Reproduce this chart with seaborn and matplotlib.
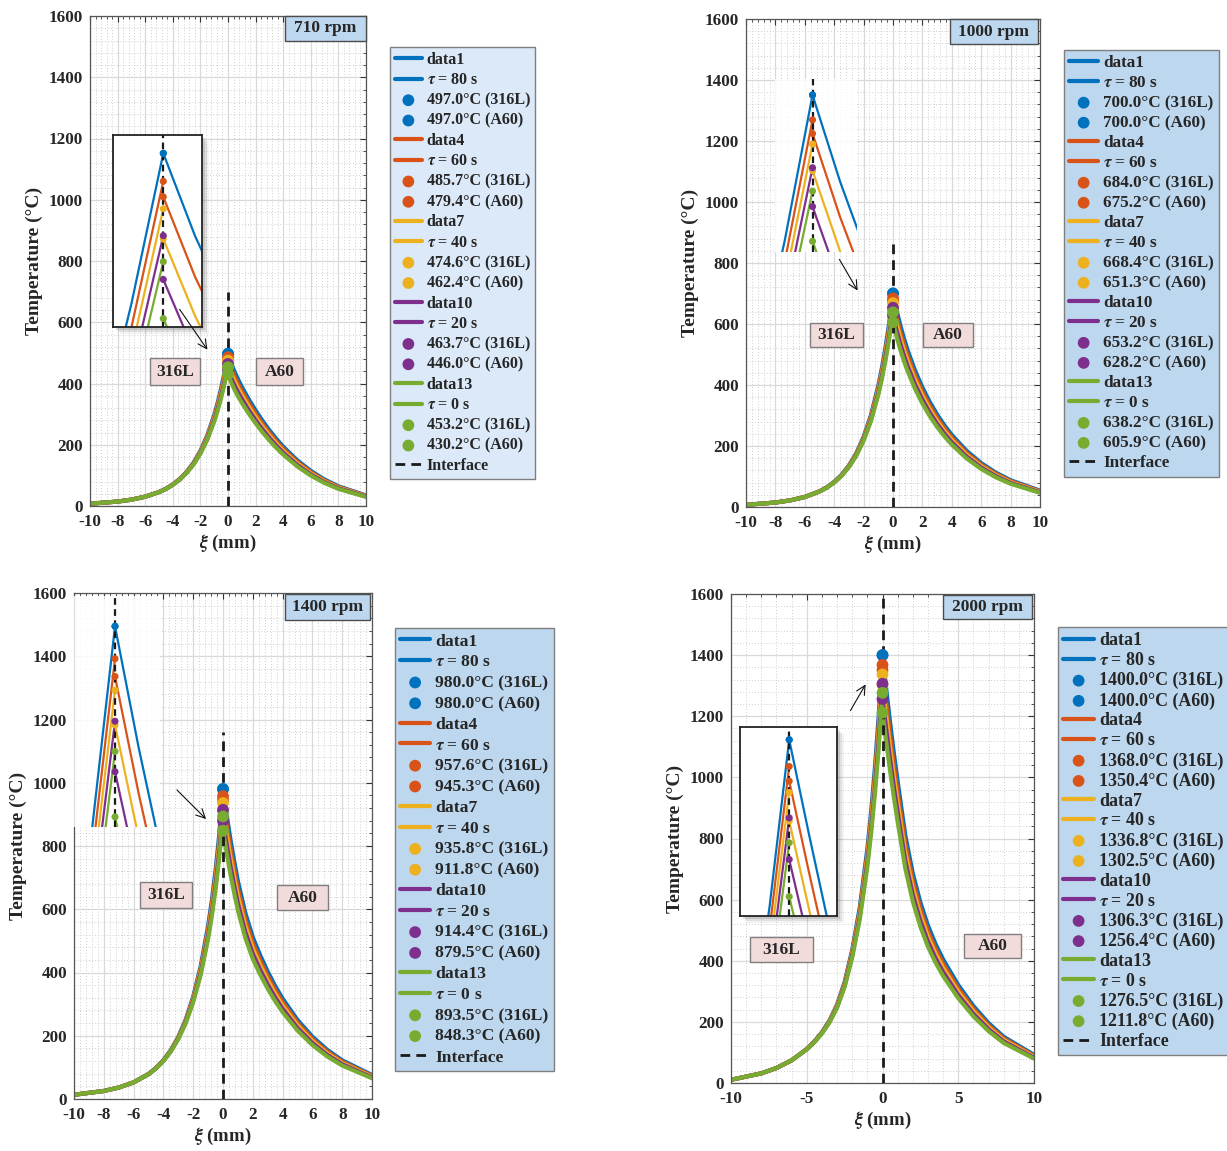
import matplotlib
matplotlib.use("Agg")
import matplotlib.pyplot as plt
import seaborn as sns
from matplotlib.patches import Rectangle, FancyArrowPatch
from matplotlib.ticker import MultipleLocator, AutoMinorLocator

sns.set_theme(style="white")
plt.rcParams['font.family'] = ['Liberation Serif', 'DejaVu Serif']
plt.rcParams['font.weight'] = 'bold'
plt.rcParams['mathtext.fontset'] = 'stix'
plt.rcParams['axes.unicode_minus'] = False

# ---------------------------------------------------------------- data
rpm = [710, 1000, 1400, 2000]
tau = [80, 60, 40, 20, 0]
interface_top = [700, 880, 1160, 1600]

# positions along the weld line (mm); 316L side ends at the interface, A60 side starts there
x_316l = [-10, -8, -7, -6, -5, -4.5, -4, -3.5, -3, -2.5, -2, -1.5, -1, -0.75, -0.5, -0.25, 0]
x_a60 = [0, 0.25, 0.5, 0.75, 1, 1.5, 2, 2.5, 3, 3.5, 4, 5, 6, 7, 8, 10]

# interface peak temperatures (°C), one per dwell time tau
peak_316l_710 = [497.0, 485.7, 474.6, 463.7, 453.2]
peak_a60_710 = [497.0, 479.4, 462.4, 446.0, 430.2]
peak_316l_1000 = [700.0, 684.0, 668.4, 653.2, 638.2]
peak_a60_1000 = [700.0, 675.2, 651.3, 628.2, 605.9]
peak_316l_1400 = [980.0, 957.6, 935.8, 914.4, 893.5]
peak_a60_1400 = [980.0, 945.3, 911.8, 879.5, 848.3]
peak_316l_2000 = [1400.0, 1368.0, 1336.8, 1306.3, 1276.5]
peak_a60_2000 = [1400.0, 1350.4, 1302.5, 1256.4, 1211.8]

# temperature on the 316L side (x = -10 ... -0.25)
side_316l_710 = [
    [7.5, 14.5, 20.7, 30.4, 45.6, 56.5, 70.4, 88.2, 111.3, 141.1, 180.0, 230.5, 296.6, 337.0, 383.3, 436.3],
    [7.5, 14.5, 20.7, 30.4, 45.5, 56.3, 70.0, 87.6, 110.4, 139.7, 177.7, 226.9, 291.2, 330.5, 375.4, 426.7],
    [7.5, 14.5, 20.7, 30.4, 45.4, 56.1, 69.7, 87.1, 109.5, 138.2, 175.5, 223.3, 285.9, 324.0, 367.6, 417.2],
    [7.5, 14.5, 20.7, 30.4, 45.3, 55.8, 69.4, 86.6, 108.7, 136.8, 173.3, 219.9, 280.6, 317.7, 360.0, 408.0],
    [7.5, 14.5, 20.7, 30.4, 45.2, 55.6, 69.1, 86.0, 107.8, 135.5, 171.2, 216.5, 275.6, 311.6, 352.6, 399.0],
]
side_316l_1000 = [
    [7.1, 14.7, 21.7, 32.9, 51.3, 64.8, 82.3, 105.4, 135.9, 176.1, 229.7, 301.4, 397.4, 457.1, 526.3, 606.7],
    [7.1, 14.7, 21.7, 32.9, 51.1, 64.4, 81.8, 104.6, 134.6, 174.0, 226.5, 296.3, 389.7, 447.8, 515.1, 593.1],
    [7.1, 14.7, 21.7, 32.9, 51.0, 64.1, 81.4, 103.8, 133.3, 172.0, 223.4, 291.3, 382.2, 438.8, 504.2, 579.8],
    [7.1, 14.7, 21.7, 32.9, 50.8, 63.8, 80.9, 103.1, 132.1, 170.0, 220.4, 286.4, 374.9, 430.0, 493.6, 566.9],
    [7.1, 14.7, 21.7, 32.9, 50.7, 63.5, 80.5, 102.3, 130.9, 168.1, 217.4, 281.6, 367.7, 421.3, 483.1, 554.2],
]
side_316l_1400 = [
    [13.4, 25.4, 36.1, 52.6, 79.1, 98.1, 122.8, 154.6, 196.5, 251.3, 323.6, 419.5, 547.5, 627.9, 722.7, 836.8],
    [13.4, 25.4, 36.1, 52.6, 78.9, 97.7, 122.1, 153.5, 194.7, 248.4, 319.1, 412.4, 536.8, 614.9, 707.0, 817.8],
    [13.4, 25.4, 36.1, 52.6, 78.7, 97.2, 121.5, 152.4, 193.0, 245.5, 314.8, 405.4, 526.3, 602.3, 691.7, 799.3],
    [13.4, 25.4, 36.1, 52.6, 78.4, 96.8, 120.8, 151.4, 191.2, 242.7, 310.5, 398.6, 516.0, 589.8, 676.7, 781.1],
    [13.4, 25.4, 36.1, 52.6, 78.2, 96.4, 120.2, 150.3, 189.6, 240.0, 306.3, 391.9, 506.0, 577.7, 662.1, 763.3],
]
side_316l_2000 = [
    [10.5, 31.5, 49.0, 74.2, 111.3, 135.8, 165.9, 204.4, 256.2, 330.4, 435.3, 574.7, 766.5, 888.4, 1031.9, 1200.8],
    [10.5, 31.5, 49.0, 74.2, 111.0, 135.2, 164.9, 202.8, 253.6, 326.2, 428.9, 564.5, 751.1, 869.9, 1009.5, 1173.6],
    [10.5, 31.5, 49.0, 74.2, 110.7, 134.5, 164.0, 201.2, 251.1, 322.2, 422.6, 554.5, 736.2, 851.8, 987.7, 1147.1],
    [10.5, 31.5, 49.0, 74.2, 110.4, 133.9, 163.1, 199.7, 248.7, 318.2, 416.5, 544.7, 721.5, 834.1, 966.4, 1121.1],
    [10.5, 31.5, 49.0, 74.2, 110.1, 133.3, 162.2, 198.2, 246.3, 314.3, 410.6, 535.2, 707.2, 816.8, 945.5, 1095.8],
]

# temperature on the A60 side (x = 0.25 ... 10)
side_a60_710 = [
    [463.5, 435.8, 411.6, 389.3, 348.8, 312.0, 278.3, 247.5, 219.4, 193.8, 150.0, 114.6, 86.5, 64.4, 34.4],
    [447.0, 420.4, 397.0, 375.6, 336.4, 300.9, 268.4, 238.7, 211.6, 187.0, 144.7, 110.5, 83.4, 62.1, 33.2],
    [431.2, 405.5, 382.9, 362.2, 324.5, 290.2, 258.9, 230.2, 204.1, 180.3, 139.6, 106.6, 80.5, 59.9, 32.0],
    [415.9, 391.1, 369.3, 349.4, 313.0, 280.0, 249.7, 222.1, 196.9, 173.9, 134.6, 102.8, 77.6, 57.8, 30.9],
    [401.2, 377.2, 356.2, 337.0, 301.9, 270.0, 240.9, 214.2, 189.9, 167.8, 129.8, 99.2, 74.9, 55.8, 29.8],
]
side_a60_1000 = [
    [644.1, 595.4, 552.2, 513.7, 447.4, 391.9, 344.4, 303.4, 267.6, 236.3, 184.4, 143.9, 112.4, 87.8, 53.6],
    [621.3, 574.3, 532.7, 495.5, 431.6, 378.0, 332.2, 292.6, 258.1, 227.9, 177.8, 138.8, 108.4, 84.7, 51.7],
    [599.3, 554.0, 513.8, 478.0, 416.3, 364.6, 320.4, 282.3, 249.0, 219.8, 171.6, 133.9, 104.6, 81.7, 49.9],
    [578.0, 534.3, 495.6, 461.0, 401.5, 351.7, 309.1, 272.3, 240.2, 212.0, 165.5, 129.2, 100.9, 78.8, 48.1],
    [557.5, 515.4, 478.0, 444.7, 387.3, 339.2, 298.1, 262.6, 231.6, 204.5, 159.6, 124.6, 97.3, 76.0, 46.4],
]
side_a60_1400 = [
    [896.7, 821.2, 752.6, 688.9, 588.0, 511.6, 454.0, 403.0, 357.6, 317.5, 250.1, 197.0, 155.2, 122.3, 75.9],
    [865.0, 792.2, 726.0, 664.5, 567.2, 493.4, 438.0, 388.7, 344.9, 306.3, 241.2, 190.0, 149.7, 118.0, 73.2],
    [834.3, 764.1, 700.3, 641.0, 547.1, 476.0, 422.4, 374.9, 332.7, 295.4, 232.7, 183.3, 144.4, 113.8, 70.6],
    [804.7, 737.0, 675.5, 618.3, 527.7, 459.1, 407.5, 361.7, 320.9, 285.0, 224.4, 176.8, 139.3, 109.8, 68.1],
    [776.2, 710.9, 651.5, 596.4, 509.0, 442.8, 393.0, 348.8, 309.5, 274.8, 216.5, 170.5, 134.4, 105.9, 65.7],
]
side_a60_2000 = [
    [1288.0, 1180.2, 1079.4, 987.0, 812.0, 686.0, 590.8, 515.2, 455.0, 404.6, 320.6, 252.0, 196.0, 151.2, 92.4],
    [1242.4, 1138.4, 1041.2, 952.0, 783.2, 661.7, 569.9, 496.9, 438.9, 390.3, 309.2, 243.1, 189.1, 145.8, 89.1],
    [1198.3, 1098.0, 1004.2, 918.3, 755.5, 638.2, 549.7, 479.3, 423.3, 376.4, 298.3, 234.5, 182.4, 140.7, 86.0],
    [1155.9, 1059.1, 968.7, 885.8, 728.7, 615.6, 530.2, 462.4, 408.3, 363.1, 287.7, 226.2, 175.9, 135.7, 82.9],
    [1114.9, 1021.5, 934.3, 854.3, 702.8, 593.8, 511.4, 445.9, 393.8, 350.2, 277.5, 218.1, 169.7, 130.9, 80.0],
]

peaks_316l = [peak_316l_710, peak_316l_1000, peak_316l_1400, peak_316l_2000]
peaks_a60 = [peak_a60_710, peak_a60_1000, peak_a60_1400, peak_a60_2000]
profiles_316l = [side_316l_710, side_316l_1000, side_316l_1400, side_316l_2000]
profiles_a60 = [side_a60_710, side_a60_1000, side_a60_1400, side_a60_2000]

colors = ['#0072BD', '#D95319', '#EDB120', '#7E2F8E', '#77AC30']

# ---------------------------------------------------------------- layout (pixels)
W, H = 1227, 1151
layout = [
    dict(ax=(90, 16, 366, 506), inset=(113, 135, 202, 327), ixlim=(-0.395, 0.304),
         iylim=(426.8, 504.4), framed=True, legend=(390, 47), legend_face='#dce9f8',
         leg_size=11.5, leg_space=0.27,
         rpm_box=(285, 16, 366, 41), box316=(150, 358, 200, 385), boxa60=(256, 358, 303, 385),
         arrow=((178, 307), (209, 352)), xstep=2),
    dict(ax=(746, 19, 1040, 507), inset=(775, 79, 857, 252), ixlim=(-0.339, 0.402),
         iylim=(599.0, 710.3), framed=False, legend=(1064, 50), legend_face='#bdd7ee',
         leg_size=12.3, leg_space=0.235,
         rpm_box=(950, 19, 1038, 44), box316=(810, 323, 863, 347), boxa60=(923, 323, 973, 347),
         arrow=((838, 257), (859, 293)), xstep=2),
    dict(ax=(74, 593, 372, 1099), inset=(72, 596, 160, 827), ixlim=(-0.458, 0.479),
         iylim=(841.3, 1000.9), framed=False, legend=(395, 628), legend_face='#bdd7ee',
         leg_size=12.6, leg_space=0.26,
         rpm_box=(285, 594, 370, 620), box316=(140, 882, 192, 908), boxa60=(277, 885, 328, 910),
         arrow=((175, 788), (208, 821)), xstep=2),
    dict(ax=(731, 594, 1034, 1083), inset=(740, 727, 837, 916), ixlim=(-0.630, 0.612),
         iylim=(1188.6, 1415.3), framed=True, legend=(1058, 627), legend_face='#bdd7ee',
         leg_size=12.9, leg_space=0.16,
         rpm_box=(943, 595, 1032, 619), box316=(750, 937, 813, 962), boxa60=(964, 934, 1021, 958),
         arrow=((849, 713), (867, 682)), xstep=5),
]


def frac_rect(x0, y0, x1, y1):
    return [x0 / W, 1 - y1 / H, (x1 - x0) / W, (y1 - y0) / H]


def px_rect(x0, y0, x1, y1, **kw):
    return Rectangle((x0 / W, 1 - y1 / H), (x1 - x0) / W, (y1 - y0) / H,
                     transform=fig.transFigure, **kw)


def box_label(rect, text, face, edge, size):
    x0, y0, x1, y1 = rect
    fig.add_artist(px_rect(x0, y0, x1, y1, facecolor=face, edgecolor=edge, lw=1.0, zorder=6))
    fig.text((x0 + x1) / 2 / W, 1 - (y0 + y1) / 2 / H, text, ha='center', va='center',
             fontsize=size, fontweight='bold', zorder=7)


fig = plt.figure(figsize=(W / 100, H / 100), dpi=100)
fig.patch.set_facecolor('white')

for i, L in enumerate(layout):
    p316, pa60 = peaks_316l[i], peaks_a60[i]
    left, right = profiles_316l[i], profiles_a60[i]

    ax = fig.add_axes(frac_rect(*L['ax']))
    ax.set_facecolor('white')
    handles, labels = [], []
    for k in range(5):
        c = colors[k]
        sns.lineplot(x=x_316l, y=left[k] + [p316[k]], ax=ax, color=c, lw=3.0,
                     estimator=None, sort=False, legend=False, zorder=2)
        h_left = ax.lines[-1]
        sns.lineplot(x=x_a60, y=[pa60[k]] + right[k], ax=ax, color=c, lw=3.0,
                     estimator=None, sort=False, legend=False, zorder=2)
        h_right = ax.lines[-1]
        sns.scatterplot(x=[0], y=[p316[k]], ax=ax, color=c, s=72, edgecolor='none',
                        linewidth=0, zorder=5, legend=False)
        h_m1 = ax.collections[-1]
        sns.scatterplot(x=[0], y=[pa60[k]], ax=ax, color=c, s=72, edgecolor='none',
                        linewidth=0, zorder=5, legend=False)
        h_m2 = ax.collections[-1]
        handles += [h_left, h_right, h_m1, h_m2]
        labels += [f'data{3 * k + 1}', rf'$\tau$ = {tau[k]} s',
                   f'{p316[k]:.1f}°C (316L)', f'{pa60[k]:.1f}°C (A60)']
    h_if, = ax.plot([0, 0], [0, interface_top[i]], color='k', lw=2.0,
                    ls=(0, (3.5, 2.2)), zorder=4)
    handles.append(h_if)
    labels.append('Interface')

    ax.set_xlim(-10, 10)
    ax.set_ylim(0, 1600)
    ax.xaxis.set_major_locator(MultipleLocator(L['xstep']))
    ax.yaxis.set_major_locator(MultipleLocator(200))
    ax.xaxis.set_minor_locator(AutoMinorLocator(5))
    ax.yaxis.set_minor_locator(AutoMinorLocator(5))
    ax.grid(which='major', color='#d9d9d9', lw=0.9, ls='-', zorder=0)
    ax.grid(which='minor', color='#cfcfcf', lw=0.7, ls=(0, (1, 2)), zorder=0)
    ax.set_axisbelow(True)
    ax.tick_params(which='both', direction='in', top=True, right=True, color='#333333',
                   labelsize=12.3)
    ax.tick_params(axis='x', which='major', pad=6)
    ax.tick_params(axis='y', which='major', pad=5)
    ax.tick_params(which='major', length=4.5, width=0.8)
    ax.tick_params(which='minor', length=2.5, width=0.6)
    for lab in ax.get_xticklabels() + ax.get_yticklabels():
        lab.set_fontweight('bold')
    for sp in ax.spines.values():
        sp.set_color('#555555')
        sp.set_linewidth(0.9)
    ax.set_xlabel(r'$\xi$ (mm)', fontsize=13.5, fontweight='bold', labelpad=2)
    ax.set_ylabel('Temperature (°C)', fontsize=14, fontweight='bold', labelpad=4)

    lx, ly = L['legend']
    leg = ax.legend(handles, labels, loc='upper left', bbox_to_anchor=(lx / W, 1 - ly / H),
                    bbox_transform=fig.transFigure, borderaxespad=0, frameon=True,
                    fancybox=False, facecolor=L['legend_face'], edgecolor='#7f7f7f',
                    framealpha=1, prop={'family': 'Liberation Serif', 'weight': 'bold',
                                        'size': L['leg_size']},
                    handlelength=1.7, handletextpad=0.3, labelspacing=L['leg_space'],
                    borderpad=0.3, scatterpoints=1)
    leg.get_frame().set_linewidth(1.0)

    # zoomed view of the interface peaks
    x0, y0, x1, y1 = L['inset']
    if L['framed']:
        for off, a in [(7, 0.06), (5, 0.10), (3, 0.16)]:
            fig.add_artist(px_rect(x0 + off, y0 + off, x1 + off, y1 + off,
                                   facecolor='#404040', edgecolor='none', alpha=a, zorder=1))
    iax = fig.add_axes(frac_rect(x0, y0, x1, y1), zorder=2)
    for k in range(5):
        c = colors[k]
        sns.lineplot(x=x_316l, y=left[k] + [p316[k]], ax=iax, color=c, lw=1.6,
                     estimator=None, sort=False, legend=False, zorder=2)
        sns.lineplot(x=x_a60, y=[pa60[k]] + right[k], ax=iax, color=c, lw=1.6,
                     estimator=None, sort=False, legend=False, zorder=2)
    iax.axvline(0, color='k', lw=1.6, ls=(0, (3, 2)), zorder=3)
    for k in range(5):
        sns.scatterplot(x=[0, 0], y=[p316[k], pa60[k]], ax=iax, color=colors[k], s=26,
                        edgecolor='none', linewidth=0, zorder=5, legend=False)
    iax.set_xlim(*L['ixlim'])
    iax.set_ylim(*L['iylim'])
    iax.set_xticks([])
    iax.set_yticks([])
    iax.set_xlabel('')
    iax.set_ylabel('')
    if L['framed']:
        iax.set_facecolor('white')
        for sp in iax.spines.values():
            sp.set_color('#222222')
            sp.set_linewidth(1.3)
    else:
        iax.patch.set_facecolor('white')
        iax.patch.set_alpha(0.82)
        for sp in iax.spines.values():
            sp.set_visible(False)

    # annotations
    box_label(L['rpm_box'], f'{rpm[i]} rpm', '#bdd7ee', '#4d4d4d', 12.5)
    box_label(L['box316'], '316L', '#f2dcdb', '#7f7f7f', 12.5)
    box_label(L['boxa60'], 'A60', '#f2dcdb', '#7f7f7f', 12.5)
    (ax0, ay0), (ax1, ay1) = L['arrow']
    fig.add_artist(FancyArrowPatch((ax0 / W, 1 - ay0 / H), (ax1 / W, 1 - ay1 / H),
                                   transform=fig.transFigure, arrowstyle='->',
                                   mutation_scale=16, lw=0.8, color='#111111', zorder=8))

fig.savefig('out.png', dpi=100)
